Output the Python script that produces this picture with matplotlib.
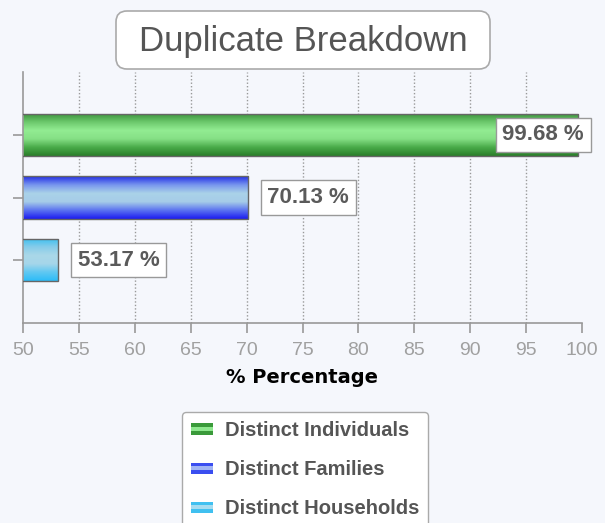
import numpy as np
import matplotlib
matplotlib.use("Agg")
import matplotlib.pyplot as plt
from matplotlib.colors import LinearSegmentedColormap
from matplotlib.patches import FancyBboxPatch, Rectangle
from matplotlib.legend_handler import HandlerBase

categories = ["Distinct Individuals", "Distinct Families", "Distinct Households"]
values = [99.68, 70.13, 53.17]
positions = [3, 2, 1]
xticks = [50, 55, 60, 65, 70, 75, 80, 85, 90, 95, 100]

# gradient stops top -> bottom for each bar
gradients = [
    ["#3a913a", "#6cc86c", "#92ec92", "#86e086", "#4aac4a", "#2a7e2a"],
    ["#2430e6", "#7896ee", "#aad2e8", "#a6cce8", "#5c74f0", "#1c1cf0"],
    ["#3cc0f0", "#86ccea", "#aad8e8", "#a6d6ea", "#60c8f2", "#2cbcf8"],
]
swatch = [("#3a9a3a", "#8ee88e"), ("#3a4ef0", "#a0b4f4"), ("#40c0f0", "#a6dcf0")]

bg = "#f5f7fc"
plt.rcParams['font.family'] = ['Liberation Sans', 'DejaVu Sans']


class StripeHandler(HandlerBase):
    def __init__(self, dark, light):
        super().__init__()
        self.dark = dark
        self.light = light

    def create_artists(self, legend, orig_handle, xdescent, ydescent,
                       width, height, fontsize, trans):
        h = height * 0.8
        y0 = -ydescent + (height - h) / 2
        s = h / 3
        arts = []
        for i, c in enumerate([self.dark, self.light, self.dark]):
            r = Rectangle((-xdescent, y0 + (2 - i) * s), width, s,
                          facecolor=c, edgecolor='none', transform=trans)
            arts.append(r)
        return arts


fig = plt.figure(figsize=(6.05, 5.23), dpi=100, facecolor=bg)
ax = fig.add_axes([23 / 605, 1 - 323 / 523, 559 / 605, 251 / 523])
ax.set_facecolor(bg)
ax.set_xlim(50, 100)
ax.set_ylim(0, 4)

bars = ax.barh(positions, values, height=0.67, color='none',
               edgecolor='#666666', linewidth=1, zorder=3)
xlo = ax.get_xlim()[0]
for bar, stops in zip(bars, gradients):
    cmap = LinearSegmentedColormap.from_list("g", stops)
    grad = np.linspace(0, 1, 64).reshape(-1, 1)
    x0, y0 = max(bar.get_x(), xlo), bar.get_y()
    x1 = bar.get_x() + bar.get_width()
    im = ax.imshow(grad, cmap=cmap, aspect='auto', origin='upper',
                   extent=(x0, x1, y0, y0 + bar.get_height()),
                   zorder=2, interpolation='bilinear')
    im.set_clip_path(bar)

ax.set_xlim(50, 100)
ax.set_ylim(0, 4)
ax.set_xticks(xticks)
ax.set_yticks(positions)
ax.set_yticklabels([])

ax.grid(axis='x', linestyle=(0, (1, 1.5)), color='#999999', linewidth=1, zorder=1)
ax.xaxis.get_gridlines()[0].set_visible(False)
ax.xaxis.get_gridlines()[-1].set_visible(False)
ax.set_axisbelow(True)

for side in ['top', 'right']:
    ax.spines[side].set_visible(False)
for side in ['left', 'bottom']:
    ax.spines[side].set_color('#999999')
    ax.spines[side].set_linewidth(1.2)
ax.tick_params(axis='x', length=7, width=1.2, color='#999999', labelcolor='#a0a0a0',
               labelsize=14, pad=7)
ax.tick_params(axis='y', length=7, width=1.2, color='#999999')
ax.set_xlabel("% Percentage", fontsize=14, fontweight='bold', color='black',
              family=['DejaVu Sans'], labelpad=6)

for v, p in zip(values, positions):
    if v > 90:
        xy, off, ha = (100, p), (1.5, 0), 'right'
    else:
        xy, off, ha = (v, p), (14, 0), 'left'
    ax.annotate(f"{v:.2f} %", xy=xy, xytext=off, textcoords='offset points',
                ha=ha, va='center', fontsize=16, fontweight='bold', color='#5a5a5a',
                zorder=5,
                bbox=dict(boxstyle='square,pad=0.3', facecolor='white',
                          edgecolor='#999999', linewidth=1))

# title box
fig.patches.append(FancyBboxPatch((116 / 605, 1 - 69 / 523), 374 / 605, 58 / 523,
                                  boxstyle="round,pad=0,rounding_size=0.018",
                                  mutation_aspect=605 / 523,
                                  transform=fig.transFigure, facecolor='white',
                                  edgecolor='#aaaaaa', linewidth=1.2))
fig.text(303 / 605, 1 - 41 / 523, "Duplicate Breakdown", ha='center', va='center',
         fontsize=25, color='#555555')

handles = [Rectangle((0, 0), 1, 1) for _ in categories]
hmap = {h: StripeHandler(d, l) for h, (d, l) in zip(handles, swatch)}
leg = fig.legend(handles, categories, handler_map=hmap, loc='upper center',
                 bbox_to_anchor=(305 / 605, 1 - 412 / 523), borderaxespad=0,
                 fontsize=14.5, labelspacing=1.0, handlelength=1.1, handleheight=0.7,
                 handletextpad=0.6, borderpad=0.45, fancybox=True, framealpha=1,
                 facecolor='white', edgecolor='#aaaaaa')
for t in leg.get_texts():
    t.set_color('#555555')
    t.set_fontweight('bold')

fig.savefig("out.png", dpi=100, facecolor=bg)
